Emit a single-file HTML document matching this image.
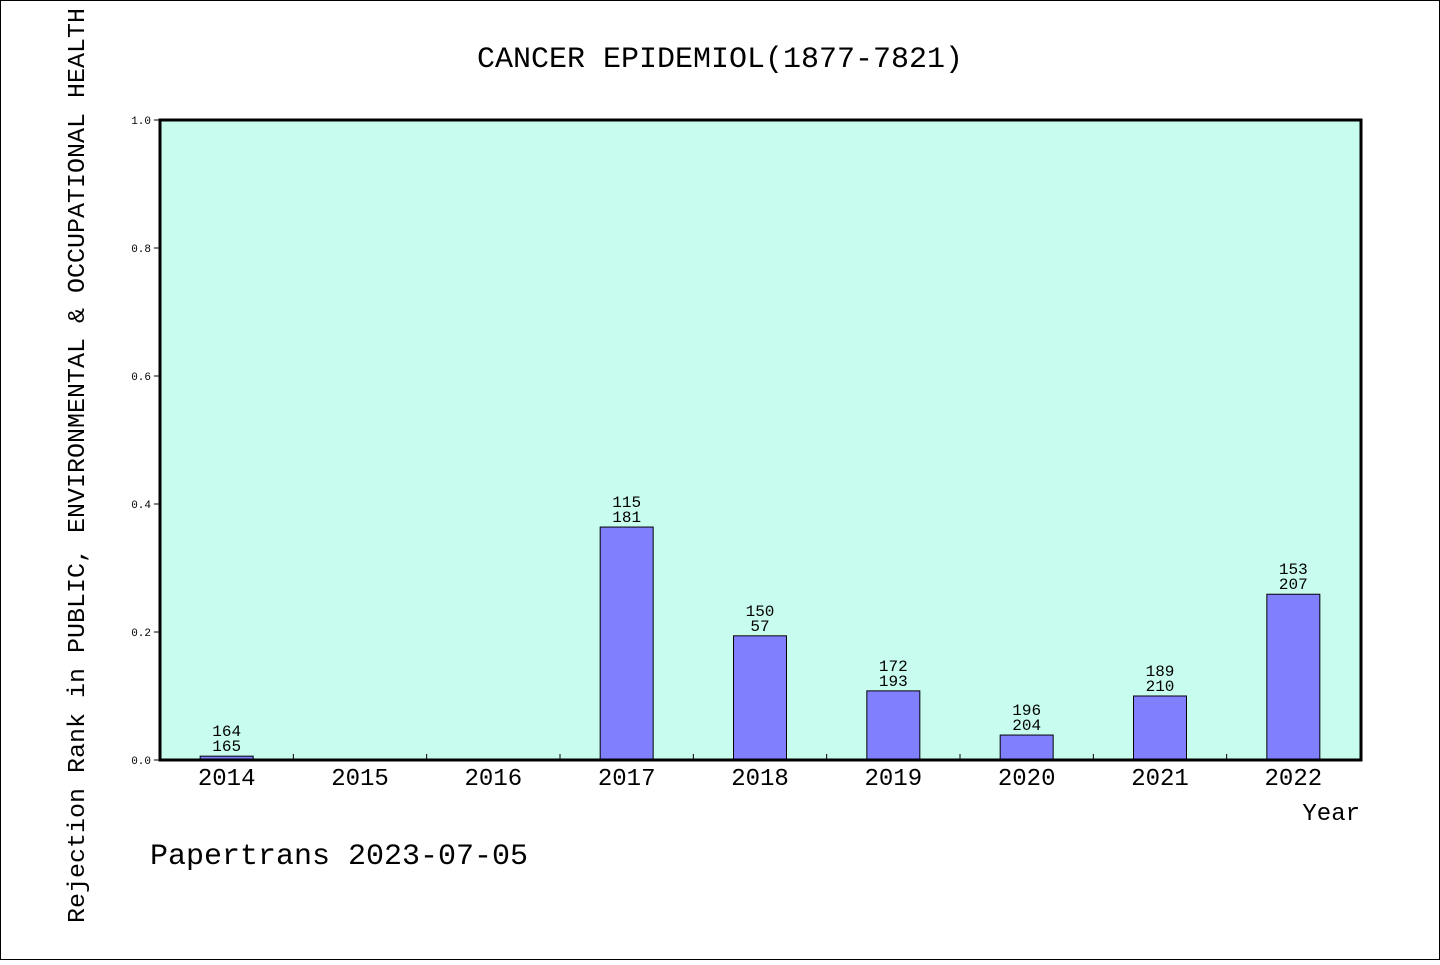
<!DOCTYPE html>
<html><head><meta charset="utf-8"><style>
html,body{margin:0;padding:0;background:#fff}
svg text{font-family:"Liberation Mono","DejaVu Sans Mono",monospace;fill:#000}
</style></head><body>
<svg id="chart" width="1440" height="960" xmlns="http://www.w3.org/2000/svg">
<rect x="0.5" y="0.5" width="1439" height="959" fill="#fff" stroke="#000"/>
<text x="720" y="67" font-size="30" text-anchor="middle">CANCER EPIDEMIOL(1877-7821)</text>
<rect x="160" y="120" width="1201" height="640" fill="#c8fcee"/>
<g id="marks"></g>
<rect x="160" y="120" width="1201" height="640" fill="none" stroke="#000" stroke-width="3"/>
<text x="1360" y="820" font-size="24" text-anchor="end">Year</text>
<text transform="translate(84,923) rotate(-90)" font-size="24" textLength="915" lengthAdjust="spacingAndGlyphs">Rejection Rank in PUBLIC, ENVIRONMENTAL &amp; OCCUPATIONAL HEALTH</text>
<text x="150" y="864" font-size="30">Papertrans 2023-07-05</text>
</svg>
<script>
const categories=["2014","2015","2016","2017","2018","2019","2020","2021","2022"];
const values=[0.006,0,0,0.364,0.194,0.108,0.039,0.1,0.259];
const labelTop=["164","","","115","150","172","196","189","153"];
const labelBottom=["165","","","181","57","193","204","210","207"];
const yTicks=[0,0.2,0.4,0.6,0.8,1.0];
const yTickLabels=["0.0","0.2","0.4","0.6","0.8","1.0"];
const ns="http://www.w3.org/2000/svg";
const X0=160,W=1200,Y0=760,H=640;
const band=W/categories.length;
const xc=i=>X0+band*(i+0.5);
const y=v=>Y0-v*H;
const g=document.getElementById('marks');
function mk(t,a){const e=document.createElementNS(ns,t);for(const k in a)e.setAttribute(k,a[k]);g.appendChild(e);return e;}
yTicks.forEach((v,i)=>{
 const l=mk('line',{x1:154,x2:160,y1:y(v),y2:y(v),stroke:'#000'});
 
 
 const t=mk('text',{x:151,y:y(v)+4,'font-size':11,'text-anchor':'end'});
 t.textContent=yTickLabels[i];
 
 
});
categories.forEach((c,i)=>{
 if(i>0){const l=mk('line',{x1:X0+band*i,x2:X0+band*i,y1:Y0,y2:Y0-6,stroke:'#000'});
 
 }
 const t=mk('text',{x:xc(i),y:785,'font-size':24,'text-anchor':'middle'});
 t.textContent=c;
 
 
 if(values[i]>0){
  const b=mk('rect',{x:xc(i)-26.5,y:y(values[i]),width:53,height:values[i]*H,fill:'#8080ff',stroke:'#000','stroke-width':1});
  
  
  const t1=mk('text',{x:xc(i),y:y(values[i])-20,'font-size':16,'text-anchor':'middle'});
  t1.textContent=labelTop[i];
  
  
  const t2=mk('text',{x:xc(i),y:y(values[i])-5,'font-size':16,'text-anchor':'middle'});
  t2.textContent=labelBottom[i];
  
  
 }
});
</script>
</body></html>
